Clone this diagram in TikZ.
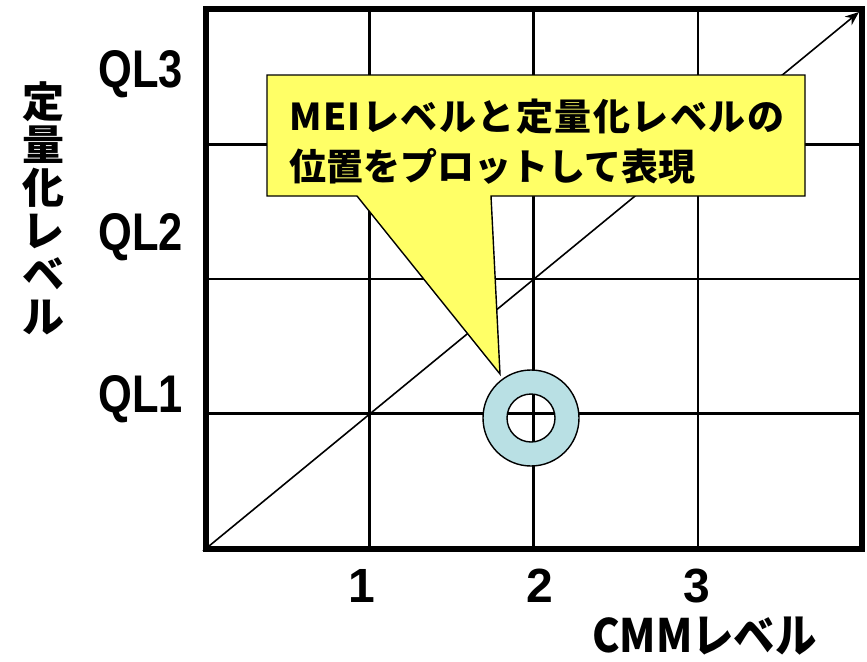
\documentclass[tikz,border=0pt]{standalone}
\usepackage{fontspec}
\usetikzlibrary{arrows.meta}
\newfontfamily\jpfont{Noto Sans CJK JP}
\newfontfamily\jpspaced[LetterSpace=4]{Noto Sans CJK JP}
\newfontfamily\jpcond[FakeStretch=0.9]{Noto Sans CJK JP}
\newfontfamily\labfont[FakeStretch=0.82]{Liberation Sans}
\newfontfamily\numfont{Liberation Sans}
\definecolor{calloutyellow}{RGB}{255,255,102}
\definecolor{ringblue}{RGB}{185,224,228}
\tikzset{
  framebox/.style={line width=6pt, line join=miter},
  gridline/.style={line width=2.6pt},
  diagline/.style={line width=1.6pt, -{Stealth[length=14pt,width=11pt]}},
  callbox/.style={fill=calloutyellow, draw=black, line width=1.4pt, line join=miter},
  ringstyle/.style={fill=ringblue, draw=black, line width=1.4pt, even odd rule},
  calltext/.style={inner sep=0pt, anchor=base west, font=\jpfont\bfseries\fontsize{37}{44}\selectfont},
  qlabel/.style={inner sep=0pt, anchor=base west, font=\labfont\bfseries\fontsize{53}{60}\selectfont},
  numlabel/.style={inner sep=0pt, anchor=base, font=\numfont\bfseries\fontsize{48}{56}\selectfont},
  axislabel/.style={inner sep=0pt, font=\jpfont\bfseries\fontsize{42}{43}\selectfont, align=center}
}
\begin{document}
\begin{tikzpicture}[x=1pt,y=-1pt]
\useasboundingbox (0,0) rectangle (867,661);
% grid
\coordinate (fbl) at (205.5,548.5);
\coordinate (ftr) at (862,9.5);
\foreach \i/\x in {1/369.6,2/533.75,3/697.9}{
  \coordinate (vt\i) at (\x,9.5);
  \coordinate (vb\i) at (\x,548.5);
  \draw[gridline] (vt\i) -- (vb\i);
}
\foreach \i/\y in {1/413.75,2/279,3/144.25}{
  \coordinate (hl\i) at (205.5,\y);
  \coordinate (hr\i) at (862,\y);
  \draw[gridline] (hl\i) -- (hr\i);
}
\draw[framebox] (fbl) rectangle (ftr);
% diagonal
\coordinate (dstart) at (203,551);
\coordinate (dend) at (859,12);
\draw[diagline] (dstart) -- (dend);
% ring
\coordinate (ringc) at (531,418);
\path[ringstyle] (ringc) circle[radius=48] (ringc) circle[radius=24];
% callout
\coordinate (c1) at (267,75);
\coordinate (c2) at (805,75);
\coordinate (c3) at (805,196);
\coordinate (c4) at (491,196);
\coordinate (ctip) at (500,374);
\coordinate (c5) at (357,196);
\coordinate (c6) at (267,196);
\draw[callbox] (c1) -- (c2) -- (c3) -- (c4) -- (ctip) -- (c5) -- (c6) -- cycle;
\node[calltext, font=\jpspaced\bfseries\fontsize{37}{44}\selectfont] (line1) at (289,130) {MEIレベルと定量化レベルの};
\node[calltext] (line2) at (289,180) {位置をプロットして表現};
% axis labels
\node[qlabel] (ql3) at (98,88) {QL3};
\node[qlabel] (ql2) at (98,250) {QL2};
\node[qlabel] (ql1) at (98,412) {QL1};
\node[numlabel] (n1) at (362,602) {1};
\node[numlabel] (n2) at (540,602) {2};
\node[numlabel] (n3) at (697,602) {3};
\node[axislabel] (ylab) at (43,208) {定\\量\\化\\レ\\ベ\\ル};
\node[inner sep=0pt, anchor=base west, font=\jpcond\bfseries\fontsize{46}{50}\selectfont] (xlab) at (592,652) {CMMレベル};
\end{tikzpicture}
\end{document}
